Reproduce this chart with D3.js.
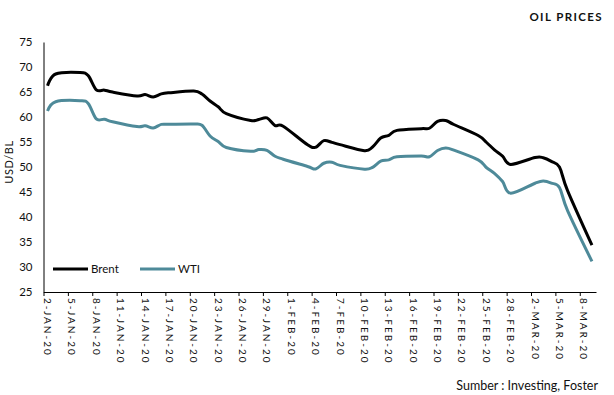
<!DOCTYPE html>
<html>
<head>
<meta charset="utf-8">
<script src="https://cdn.jsdelivr.net/npm/d3@7"></script>
<style>
  html, body { margin: 0; padding: 0; background: #fff; }
  svg { display: block; font-family: Lato, "Open Sans", sans-serif; }
</style>
</head>
<body>
<svg id="chart" width="614" height="395"></svg>
<script>
const title = "OIL PRICES";
const source = "Sumber : Investing, Foster";
const yLabel = "USD/BL";
const seriesNames = ["Brent", "WTI"];
const seriesColors = ["#000000", "#4E8A99"];

const dates = [
  "2020-01-02","2020-01-03","2020-01-06","2020-01-07","2020-01-08","2020-01-09","2020-01-10",
  "2020-01-13","2020-01-14","2020-01-15","2020-01-16","2020-01-17","2020-01-20","2020-01-21",
  "2020-01-22","2020-01-23","2020-01-24","2020-01-27","2020-01-28","2020-01-29","2020-01-30",
  "2020-01-31","2020-02-03","2020-02-04","2020-02-05","2020-02-06","2020-02-07","2020-02-10",
  "2020-02-11","2020-02-12","2020-02-13","2020-02-14","2020-02-17","2020-02-18","2020-02-19",
  "2020-02-20","2020-02-21","2020-02-24","2020-02-25","2020-02-26","2020-02-27","2020-02-28",
  "2020-03-02","2020-03-03","2020-03-04","2020-03-05","2020-03-06","2020-03-09"
];
const brent = [
  66.25, 68.60, 68.91, 68.27, 65.44, 65.37, 64.98,
  64.20, 64.49, 64.00, 64.62, 64.85, 65.20, 64.59,
  63.21, 62.04, 60.69, 59.32, 59.51, 59.81, 58.29,
  58.16, 54.45, 53.96, 55.28, 54.93, 54.47, 53.27,
  54.01, 55.79, 56.34, 57.32, 57.67, 57.75, 59.12,
  59.31, 58.50, 56.30, 54.95, 53.43, 52.18, 50.52,
  51.90, 51.86, 51.13, 49.99, 45.27, 34.36
];
const wti = [
  61.18, 63.05, 63.27, 62.70, 59.61, 59.56, 59.04,
  58.08, 58.23, 57.81, 58.52, 58.54, 58.60, 58.34,
  56.20, 55.10, 53.90, 53.14, 53.48, 53.33, 52.14,
  51.56, 50.11, 49.61, 50.75, 50.95, 50.32, 49.57,
  49.94, 51.17, 51.42, 52.05, 52.20, 52.05, 53.29,
  53.78, 53.38, 51.43, 49.90, 48.73, 47.09, 44.76,
  46.75, 47.18, 46.78, 45.90, 41.28, 31.13
];
const xTickLabels = [
  "2-JAN-20","5-JAN-20","8-JAN-20","11-JAN-20","14-JAN-20","17-JAN-20","20-JAN-20",
  "23-JAN-20","26-JAN-20","29-JAN-20","1-FEB-20","4-FEB-20","7-FEB-20","10-FEB-20",
  "13-FEB-20","16-FEB-20","19-FEB-20","22-FEB-20","25-FEB-20","28-FEB-20","2-MAR-20",
  "5-MAR-20","8-MAR-20"
];
const yTicks = [25, 30, 35, 40, 45, 50, 55, 60, 65, 70, 75];
const xDomain = ["2020-01-02", "2020-03-10"];

const parseISO = d3.timeParse("%Y-%m-%d");
const parseLabel = d3.timeParse("%d-%b-%y");
const midDay = d => d3.timeHour.offset(d, 12);

const svg = d3.select("#chart");
const plotLeft = 43.5, plotRight = 596, plotTop = 42, plotBottom = 292;

const x = d3.scaleTime().domain(xDomain.map(parseISO)).range([plotLeft, plotRight]);
const y = d3.scaleLinear().domain([25, 75]).range([plotBottom, plotTop]);

// Title
svg.append("text")
  .attr("x", 603).attr("y", 21)
  .attr("text-anchor", "end")
  .attr("font-size", 11.5).attr("font-weight", "bold")
  .attr("letter-spacing", 1.4)
  .attr("fill", "#111")
  .text(title);

// Y axis
const yAxis = d3.axisLeft(y).tickValues(yTicks).tickSize(0).tickPadding(11);
const gy = svg.append("g").attr("transform", `translate(${plotLeft},0)`).call(yAxis);
gy.select(".domain").attr("stroke", "#000").attr("stroke-width", 1);
gy.selectAll("text").attr("font-size", 11.5).attr("font-family", "Lato, sans-serif").attr("fill", "#111");

// X axis
const xAxis = d3.axisBottom(x)
  .tickValues(xTickLabels.map(parseLabel))
  .tickSizeInner(4).tickSizeOuter(0)
  .tickFormat("");
const gx = svg.append("g").attr("transform", `translate(0,${plotBottom})`).call(xAxis);
gx.select(".domain").attr("stroke", "#000").attr("stroke-width", 1);
gx.selectAll(".tick line").attr("stroke", "#000");

svg.append("g").selectAll("text")
  .data(xTickLabels)
  .join("text")
  .attr("transform", d => `translate(${x(midDay(parseLabel(d))) - 3.5},${plotBottom + 6}) rotate(90)`)
  .attr("font-size", 10)
  .attr("letter-spacing", 2)
  .attr("fill", "#111")
  .text(d => d);

// Y label
svg.append("text")
  .attr("transform", `translate(13,162) rotate(-90)`)
  .attr("text-anchor", "middle")
  .attr("font-size", 11)
  .attr("letter-spacing", 0.6)
  .attr("fill", "#111")
  .text(yLabel);

// Lines
const series = [brent, wti];
const line = d3.line()
  .x((d, i) => x(midDay(parseISO(dates[i]))))
  .y(d => y(d))
  .curve(d3.curveCardinal.tension(0));

series.forEach((vals, k) => {
  svg.append("path")
    .datum(vals)
    .attr("d", line)
    .attr("fill", "none")
    .attr("stroke", seriesColors[k])
    .attr("stroke-width", 3)
    .attr("stroke-linejoin", "round");
});

// Legend
const legendX = [53, 140];
seriesNames.forEach((name, k) => {
  const g = svg.append("g").attr("transform", `translate(${legendX[k]},269)`);
  g.append("line").attr("x1", 0).attr("x2", 35).attr("y1", 0).attr("y2", 0)
    .attr("stroke", seriesColors[k]).attr("stroke-width", 3);
  g.append("text").attr("x", 38).attr("y", 4).attr("font-size", 11.5).attr("fill", "#111").text(name);
});

// Source
svg.append("text")
  .attr("x", 598).attr("y", 390)
  .attr("text-anchor", "end")
  .attr("font-size", 12.5)
  .attr("fill", "#111")
  .text(source);
</script>
</body>
</html>
